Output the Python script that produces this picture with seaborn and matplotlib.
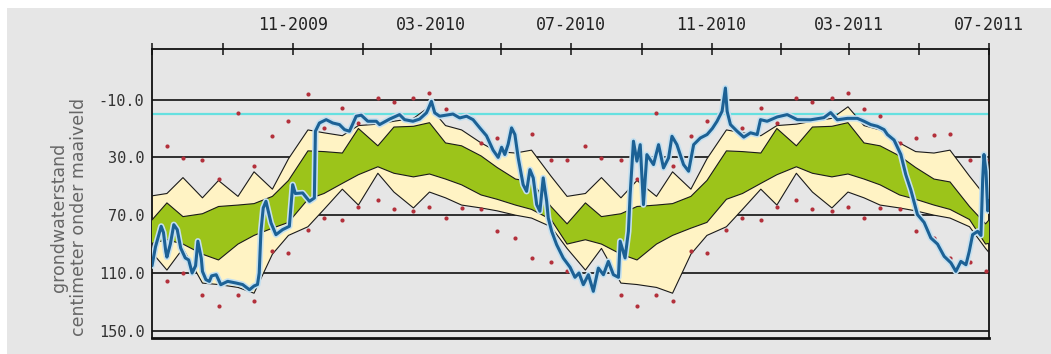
import numpy as np
import pandas as pd
import matplotlib
matplotlib.use("Agg")
import matplotlib.pyplot as plt
from matplotlib.patches import Rectangle
import seaborn as sns

# ---------------------------------------------------------------------------
# Reference statistics per half-month (14th and 28th), July .. June,
# in cm below surface level
# ---------------------------------------------------------------------------
period_days = [14, 28]
season_months = [7, 8, 9, 10, 11, 12, 1, 2, 3, 4, 5, 6]
band_top = [55, 44, 58, 46, 57, 40, 52, 31, 11, 13, 15, 8,
            7, 5, 3, -5, 8, 11, 20, 26, 27, 25, 43, 57]
band_mid_high = [61.5, 71, 69, 64, 63, 62, 57, 46, 25.5, 26, 27, 10,
                 22, 9, 8.5, 6, 20, 22, 29, 37, 45, 47, 64, 76]
band_mid_low = [87, 90, 97, 101, 90, 84, 79, 75, 59, 55, 48, 42,
                36.5, 41, 43.5, 41.5, 45, 49, 56, 59, 63, 66, 73, 90]
band_bottom = [108, 93, 117, 118, 120, 124, 97, 84, 78, 66, 52, 63,
               41, 54, 65, 54, 58, 63, 65, 67, 70, 72, 78, 93]
extreme_high = [22.3, 30.4, 31.6, 45, -1, 36, 15.4, 4.5, -14, 9.6, -4, 6,
                -11.4, -8, -11.4, -14.5, -3.5, 1.5, 20, 16.5, 14.2, 13.5, 31.6, 32]
extreme_low = [115.8, 110, 125.5, 133, 125, 129.7, 95, 96, 80.5, 72.3, 73.5, 64,
               59.3, 65.5, 67, 64.2, 72, 65, 66, 81, 86, 99.7, 102.7, 108.5]
season_years = [2008, 2009, 2010, 2011]

# ---------------------------------------------------------------------------
# Logger record: days since start of record and level (cm below surface)
# ---------------------------------------------------------------------------
record_start = "2009-07-01"
level_day = [0, 3, 8, 10, 12, 13, 16, 19, 22, 25, 29, 32, 35, 38, 40, 43, 44, 47,
             50, 52, 56, 60, 66, 73, 79, 85, 89, 92, 93.5, 95.0, 97.0, 99.4, 103.8,
             108.1, 113.9, 119.8, 122.7, 125.0, 131.4, 137.3, 141.6, 142.5, 146.0,
             151.9, 157.6, 163.5, 167.9, 172.2, 178.1, 182.5, 188.2, 195.6, 198.5,
             207.2, 215.9, 220.3, 227.6, 233.4, 239.3, 240.7, 243.7, 246.6, 250.9,
             262.5, 268.4, 274.3, 280.0, 285.9, 291.7, 297.5, 301.9, 304.9, 307.7,
             310.6, 313.6, 316.5, 319.4, 323.7, 326.7, 329.6, 332.5, 335.5, 338.3,
             341.2, 344.2, 345.6, 348.6, 352.9, 358.7, 364.6, 368.9, 372.4, 376.2,
             380.6, 384.9, 389.3, 393.7, 398.0, 402.4, 406.8, 408.3, 412.6, 415.5,
             417.0, 419.9, 422.9, 425.8, 428.6, 431.6, 437.4, 441.8, 446.1, 450.5,
             453.5, 457.8, 463.6, 468.0, 472.4, 478.2, 484.1, 488.7, 492.8, 497.2,
             500.1, 501.6, 504.5, 510.3, 516.1, 522.0, 527.8, 530.7, 536.5, 545.3,
             554.0, 562.8, 574.4, 586.0, 591.9, 597.7, 606.5, 615.2, 621.0, 626.8,
             632.7, 638.5, 641.4, 647.2, 653.1, 657.4, 661.8, 667.6, 673.4, 679.3,
             685.1, 690.9, 696.8, 701.1, 705.5, 709.9, 712.8, 715.7, 720.1, 723.0,
             724.5, 725.6, 727.4, 728.9, 730.0]
level_cm = [105, 92, 77.7, 82, 95, 99, 90, 76.6, 80, 92.7, 99.6, 101, 110, 105, 88,
            100, 108.9, 114.6, 115.8, 112, 111.2, 118.1, 115.8, 116.9, 118, 121.6,
            119, 118, 110, 81.2, 65, 60.4, 75.4, 83.5, 80, 77.7, 48.9, 55, 54.6,
            60.4, 58.1, 11.9, 6.2, 3.9, 6.2, 7.3, 10.8, 11.9, 1.5, 0.8, 5, 5, 7.3,
            3.5, 0.4, 3.9, 5, 3.5, -0.8, -3.1, -8.8, -0.8, 1.5, 0, 2.7, 1.5, 3.9,
            9.6, 15, 25, 30, 23, 28, 21, 9.6, 14.2, 30.4, 48.9, 53.5, 38.5, 44.2,
            62.7, 67.3, 44.2, 60.4, 72, 81.2, 90.4, 99.7, 106, 113, 110, 118.1,
            111.2, 122.7, 106.6, 111.2, 102, 111.2, 113, 88, 99.6, 81.2, 55.8, 18.8,
            32.6, 21.2, 62.7, 28.1, 35, 21.2, 37.3, 30.4, 15.4, 21.2, 35, 39.6,
            21.2, 16.6, 14.2, 10, 5, -1.9, -18, -1.9, 7.3, 11.9, 16, 13, 14.2, 3.9,
            5, 2, 0.4, 3.9, 4, 2.5, -1, 4, 3, 3, 5, 7.3, 8.5, 10.8, 14.2, 18, 28,
            41.9, 52.5, 69.6, 75, 85.8, 90, 98.5, 103, 108.9, 102, 104.3, 95, 83.5,
            81.2, 84, 45, 28, 40, 67, 60]

grid_levels = [-10, 30, 70, 110, 150]
surface_level = 0
y_ticks = [-30, -10, 10, 30, 50, 70, 90, 110, 130, 150]
y_tick_labels = ["", "-10.0", "", "30.0", "", "70.0", "", "110.0", "", "150.0"]
x_tick_labels = ["", "", "11-2009", "", "03-2010", "", "07-2010", "",
                 "11-2010", "", "03-2011", "", "07-2011"]
axis_title = "grondwaterstand\ncentimeter onder maaiveld"


def season_dates(year):
    dates = []
    for m in season_months:
        y = year if m >= 7 else year + 1
        for d in period_days:
            dates.append(pd.Timestamp(y, m, d))
    return dates


bands = pd.concat(
    [pd.DataFrame({
        "date": season_dates(yr),
        "top": band_top,
        "mid_high": band_mid_high,
        "mid_low": band_mid_low,
        "bottom": band_bottom,
        "high": extreme_high,
        "low": extreme_low,
    }) for yr in season_years],
    ignore_index=True,
)

record = pd.DataFrame({
    "date": pd.Timestamp(record_start) + pd.to_timedelta(level_day, unit="D"),
    "level": level_cm,
})

# ---------------------------------------------------------------------------
sns.set_style("white")
plt.rcParams["font.family"] = ["DejaVu Sans"]

BG = "#e6e6e6"
fig = plt.figure(figsize=(10.51, 3.54), dpi=100)
fig.patch.set_facecolor("white")
fig.add_artist(Rectangle((7 / 1051, 0), 1, 1 - 8 / 354, transform=fig.transFigure,
                         facecolor=BG, edgecolor="none", zorder=-10))

ax = fig.add_axes([0.14463, 0.04520, 0.79638, 0.81638])
ax.set_facecolor(BG)

for lvl in grid_levels:
    ax.axhline(lvl, color="#111111", lw=1.2, zorder=1)
ax.axhline(surface_level, color="#66e0e0", lw=1.6, zorder=1)

# outer (light) and inner (green) bands
ax.fill_between(bands["date"], bands["top"], bands["bottom"],
                color="#fff3c4", lw=0, zorder=2)
ax.fill_between(bands["date"], bands["mid_high"], bands["mid_low"],
                color="#9cc41a", lw=0, zorder=3)
for col in ["top", "mid_high", "mid_low", "bottom"]:
    sns.lineplot(data=bands, x="date", y=col, ax=ax, color="#1a1a1a",
                 lw=0.8, zorder=4, estimator=None)

# highest / lowest observed values per half-month
for col in ["high", "low"]:
    sns.scatterplot(data=bands, x="date", y=col, ax=ax, color="#b3303b",
                    s=9, linewidth=0, zorder=5)

# logger series with a pale halo
sns.lineplot(data=record, x="date", y="level", ax=ax, color="#c4e0f0",
             lw=4.5, zorder=6, estimator=None, sort=False)
sns.lineplot(data=record, x="date", y="level", ax=ax, color="#1c6195",
             lw=2.2, zorder=7, estimator=None, sort=False)

ax.set_xlim(pd.Timestamp("2009-07-01"), pd.Timestamp("2011-07-01"))
ax.set_ylim(155, -45)

x_ticks = pd.date_range("2009-07-01", "2011-07-01", freq="2MS")
ax.xaxis.tick_top()
ax.set_xticks(x_ticks)
ax.set_xticklabels(x_tick_labels, family="DejaVu Sans Mono", fontsize=12,
                   color="#222222")
ax.set_yticks(y_ticks)
ax.set_yticklabels(y_tick_labels, family="DejaVu Sans Mono", fontsize=11,
                   color="#333333")
ax.tick_params(axis="x", direction="inout", length=9, width=1.1, pad=6,
               colors="#111111", labelcolor="#222222")
ax.tick_params(axis="y", direction="inout", length=9, width=1.1, pad=1,
               colors="#111111", labelcolor="#333333")
ax.set_xlabel("")
ax.set_ylabel("")

for side in ["left", "top", "right"]:
    ax.spines[side].set_visible(True)
    ax.spines[side].set_color("#111111")
    ax.spines[side].set_linewidth(1.3)
ax.spines["bottom"].set_visible(True)
ax.spines["bottom"].set_color("#111111")
ax.spines["bottom"].set_linewidth(2.0)

fig.text(69 / 1051, 1 - 217 / 354, axis_title, rotation=90, ha="center",
         va="center", multialignment="center", fontsize=12.5, color="#666666",
         linespacing=1.15)

fig.savefig("out.png", dpi=100, facecolor=fig.get_facecolor())
